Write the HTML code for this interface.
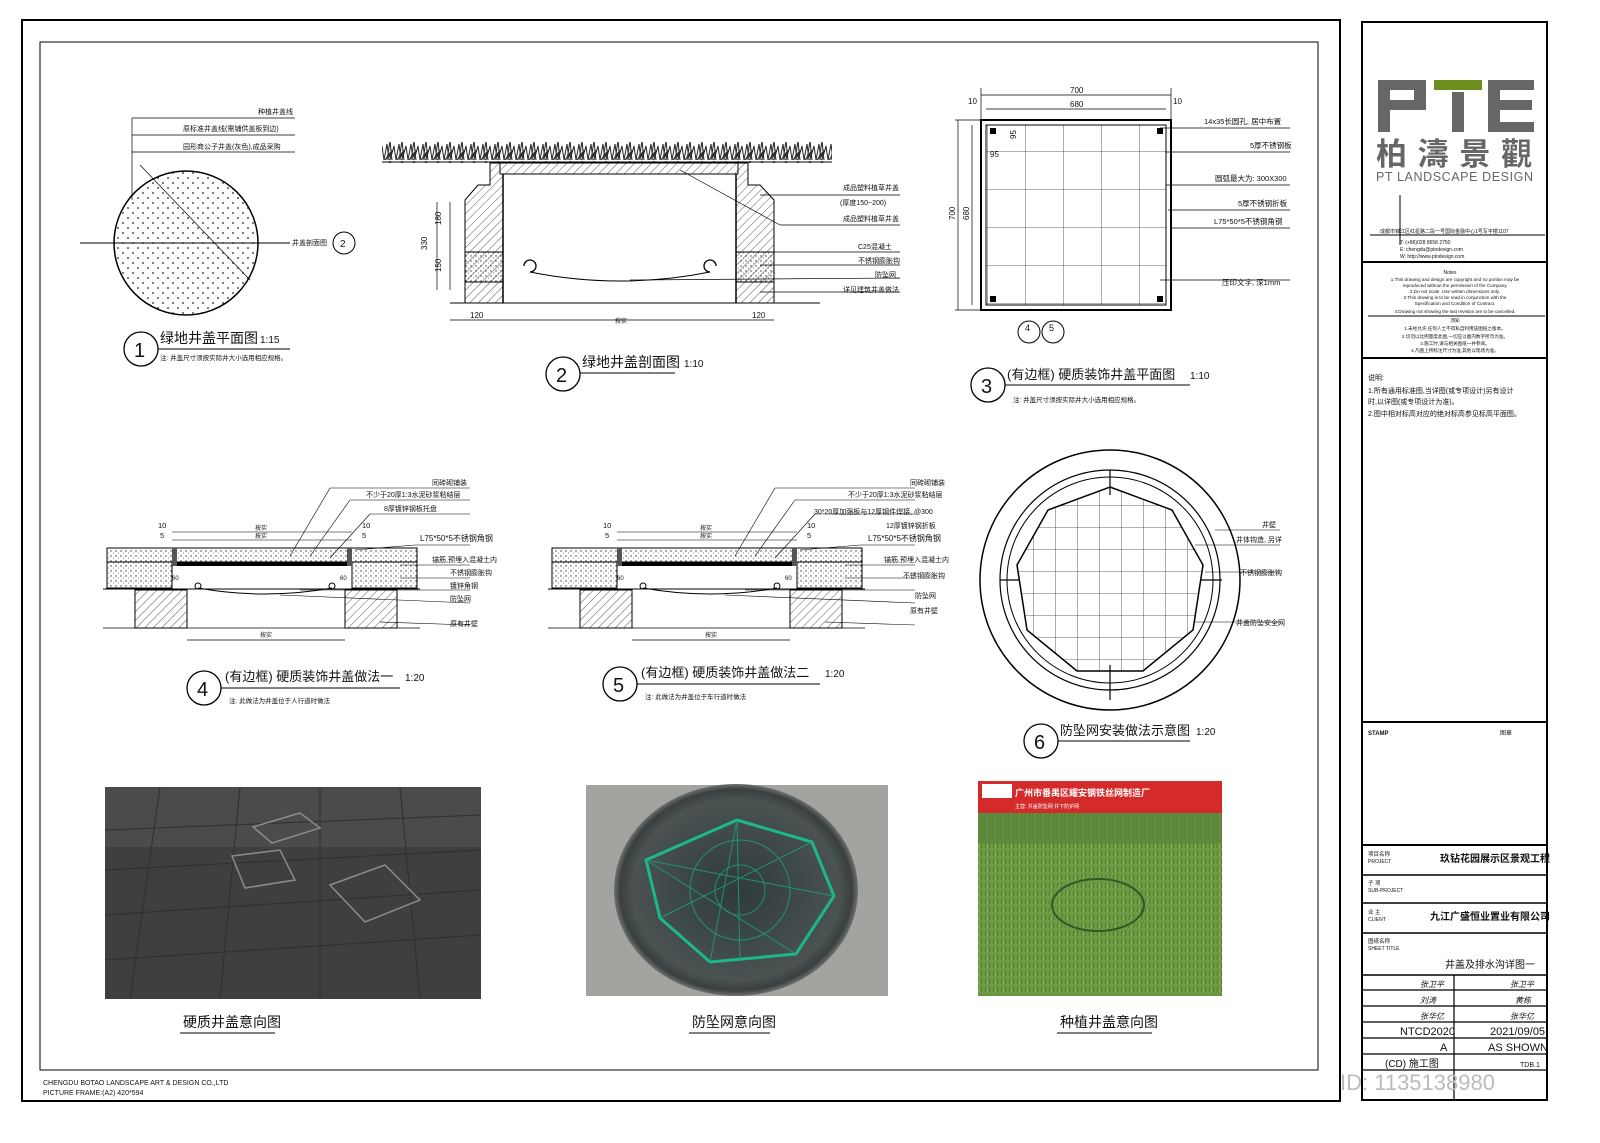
<!DOCTYPE html>
<html><head><meta charset="utf-8"><style>
html,body{margin:0;padding:0;background:#fff}
svg{display:block}
text{font-family:"Liberation Sans","Noto Sans CJK SC",sans-serif;fill:#111}
</style></head><body>
<svg width="1600" height="1143" viewBox="0 0 1600 1143" xmlns="http://www.w3.org/2000/svg">
<defs>
<pattern id="hatch" width="6" height="6" patternUnits="userSpaceOnUse" patternTransform="rotate(45)"><line x1="0" y1="0" x2="0" y2="6" stroke="#333" stroke-width="0.8"/></pattern>
<pattern id="dots" width="5" height="5" patternUnits="userSpaceOnUse"><circle cx="1" cy="1" r="0.7" fill="#333"/><circle cx="3.5" cy="3" r="0.5" fill="#555"/></pattern>
<pattern id="dots2" width="10" height="10" patternUnits="userSpaceOnUse"><circle cx="3" cy="3" r="0.9" fill="#222"/><circle cx="8" cy="8" r="0.9" fill="#222"/></pattern>
<pattern id="grid" width="38" height="38" patternUnits="userSpaceOnUse"><path d="M38 0V38M0 38H38" stroke="#333" stroke-width="0.8" fill="none"/></pattern>
<pattern id="grid2" width="22" height="22" patternUnits="userSpaceOnUse"><path d="M22 0V22M0 22H22" stroke="#333" stroke-width="0.8" fill="none"/></pattern>
<pattern id="grass" width="12" height="20" patternUnits="userSpaceOnUse"><path d="M0 20L3 4L5 20M3 20L6 1L8 20M6 20L10 6L12 20M1 20L8 10" stroke="#222" fill="none" stroke-width="1"/><circle cx="6" cy="15" r="2" fill="#333"/></pattern>
<pattern id="turf" width="8" height="8" patternUnits="userSpaceOnUse"><rect width="8" height="8" fill="#6e9a44"/><path d="M1 8L2 3M5 8L6 2" stroke="#4f7a30" stroke-width="1"/><path d="M3 8L4 4" stroke="#8ab35a" stroke-width="1"/></pattern>
<radialGradient id="hole" cx="50%" cy="50%" r="50%"><stop offset="0" stop-color="#2f3a3a"/><stop offset="0.85" stop-color="#4a5252"/><stop offset="0.95" stop-color="#3a3f3f"/><stop offset="1" stop-color="#6d706f"/></radialGradient>
</defs>

<rect x="22" y="20" width="1318" height="1081" fill="none" stroke="#000" stroke-width="2"/>
<rect x="40" y="42" width="1278" height="1028" fill="none" stroke="#000" stroke-width="1"/>
<rect x="1362" y="22" width="185" height="1078" fill="none" stroke="#000" stroke-width="2"/>
<line x1="1362" y1="262" x2="1547" y2="262" stroke="#000" stroke-width="2"/>
<line x1="1362" y1="358" x2="1547" y2="358" stroke="#000" stroke-width="2"/>
<line x1="1362" y1="722" x2="1547" y2="722" stroke="#000" stroke-width="2"/>
<line x1="1362" y1="845" x2="1547" y2="845" stroke="#000" stroke-width="2"/>
<line x1="1362" y1="875" x2="1547" y2="875" stroke="#000" stroke-width="1.5"/>
<line x1="1362" y1="903" x2="1547" y2="903" stroke="#000" stroke-width="1.5"/>
<line x1="1362" y1="933" x2="1547" y2="933" stroke="#000" stroke-width="1.5"/>
<line x1="1362" y1="975" x2="1547" y2="975" stroke="#000" stroke-width="1.5"/>
<g stroke="#000" stroke-width="1.2"><line x1="1362" y1="990" x2="1547" y2="990"/><line x1="1362" y1="1006" x2="1547" y2="1006"/><line x1="1362" y1="1022" x2="1547" y2="1022"/><line x1="1362" y1="1038" x2="1547" y2="1038"/><line x1="1362" y1="1054" x2="1547" y2="1054"/><line x1="1362" y1="1070" x2="1547" y2="1070"/><line x1="1454" y1="975" x2="1454" y2="1100"/></g>

<g fill="#666">
<path d="M1378 80h48v30h-36v22h-12zM1390 90v10h24v-10z" fill-rule="evenodd"/>
<rect x="1434" y="80" width="48" height="10" fill="#6b8e1e"/>
<rect x="1452" y="92" width="12" height="40"/>
<path d="M1488 80h46v10h-34v10h32v10h-32v12h34v10h-46z"/>
</g>
<text x="1376" y="165" font-size="31" font-weight="bold" style="fill:#666" textLength="156">柏濤景觀</text>
<text x="1376" y="181" font-size="12.5" style="fill:#666" textLength="157">PT LANDSCAPE DESIGN</text>
<line x1="1400" y1="195" x2="1400" y2="245" stroke="#000"/>
<line x1="1370" y1="235" x2="1545" y2="235" stroke="#000"/>
<text x="1380" y="233" font-size="5">成都市锦江区红星路二段一号国际金融中心1号写字楼1107</text>
<text x="1400" y="244" font-size="5">T: (+86)028 8658 2750</text>
<text x="1400" y="251" font-size="5">E: chengdu@ptodesign.com</text>
<text x="1400" y="258" font-size="5">W: http://www.ptodesign.com</text>
<text x="1450" y="274" font-size="5" text-anchor="middle">Notes</text>
<g font-size="4.6" text-anchor="middle"><text x="1455" y="281">1.This drawing and design are copyright and no portion may be</text><text x="1455" y="287">reproduced without the permission of the Company.</text><text x="1455" y="293">2.Do not scale. Use written dimensions only.</text><text x="1455" y="299">3.This drawing is to be read in conjunction with the</text><text x="1455" y="305">Specification and Condition of Contract.</text><text x="1455" y="313">4.Drawing not showing the last revision are to be cancelled.</text><text x="1455" y="322">须知</text><text x="1455" y="330">1.未经允许,任何人士不得私自利用该图纸之版本。</text><text x="1455" y="338">2.切勿以比例量度此图,一切应以图内数字所示为准。</text><text x="1455" y="345">3.施工时,请与相关图纸一并参阅。</text><text x="1455" y="352">4.凡图上所标注尺寸为准,其他以现场为准。</text></g>
<line x1="1368" y1="316" x2="1545" y2="316" stroke="#000"/>
<g font-size="7"><text x="1368" y="380">说明:</text><text x="1368" y="393">1.所有通用标准图,当详图(或专项设计)另有设计</text><text x="1368" y="404">时,以详图(或专项设计为准)。</text><text x="1368" y="416">2.图中相对标高对应的绝对标高参见标高平面图。</text></g>
<text x="1368" y="735" font-size="6" font-weight="bold">STAMP</text><text x="1500" y="735" font-size="6">图章</text>
<text x="1368" y="856" font-size="5.5">项目名称</text><text x="1368" y="863" font-size="5">PROJECT</text>
<text x="1440" y="862" font-size="10" font-weight="bold">玖钻花园展示区景观工程</text>
<text x="1368" y="885" font-size="5.5">子 项</text><text x="1368" y="892" font-size="5">SUB-PROJECT</text>
<text x="1368" y="914" font-size="5.5">业 主</text><text x="1368" y="921" font-size="5">CLIENT</text>
<text x="1430" y="920" font-size="10" font-weight="bold">九江广盛恒业置业有限公司</text>
<text x="1368" y="943" font-size="5.5">图纸名称</text><text x="1368" y="950" font-size="5">SHEET TITLE</text>
<text x="1445" y="968" font-size="10">井盖及排水沟详图一</text>
<g font-size="11"><text x="1400" y="1035">NTCD2020</text><text x="1440" y="1051">A</text><text x="1490" y="1035">2021/09/05</text><text x="1488" y="1051">AS SHOWN</text><text x="1385" y="1067" font-size="10">(CD) 施工图</text><text x="1520" y="1067" font-size="7">TDB.1</text></g>
<g font-size="8" font-style="italic"><text x="1420" y="987">张卫平</text><text x="1510" y="987">张卫平</text><text x="1420" y="1003">刘涛</text><text x="1515" y="1003">黄栋</text><text x="1420" y="1019">张华亿</text><text x="1510" y="1019">张华亿</text></g>
<text x="1340" y="1090" font-size="22" style="fill:#bbb">ID: 1135138980</text>

<circle cx="186" cy="243" r="72" fill="url(#dots2)" stroke="#000" stroke-width="1.5"/>
<line x1="80" y1="243" x2="290" y2="243" stroke="#000"/>
<line x1="132" y1="118" x2="132" y2="200" stroke="#000" stroke-width="0.7"/>
<line x1="132" y1="118" x2="295" y2="118" stroke="#000" stroke-width="0.7"/>
<line x1="132" y1="135" x2="295" y2="135" stroke="#000" stroke-width="0.7"/>
<line x1="132" y1="152" x2="295" y2="152" stroke="#000" stroke-width="0.7"/>
<line x1="140" y1="165" x2="250" y2="280" stroke="#000" stroke-width="0.7"/>
<g font-size="7"><text x="258" y="114">种植井盖线</text><text x="183" y="131">原标准井盖线(需铺供盖板到边)</text><text x="183" y="149">园形商公子井盖(灰色),成品采购</text><text x="292" y="245">井盖剖面图</text></g>
<circle cx="344" cy="243" r="11" fill="none" stroke="#000"/><text x="340" y="247" font-size="10">2</text>
<circle cx="141" cy="349" r="17" fill="none" stroke="#000" stroke-width="1.3"/><text x="134" y="357" font-size="20">1</text>
<text x="160" y="343" font-size="14">绿地井盖平面图</text><text x="260" y="343" font-size="10">1:15</text>
<line x1="158" y1="349" x2="290" y2="349" stroke="#000"/>
<text x="160" y="360" font-size="6.5">注: 井盖尺寸须按实际井大小选用相应规格。</text>

<rect x="382" y="142" width="450" height="21" fill="url(#grass)"/>
<line x1="382" y1="162" x2="832" y2="162" stroke="#000"/>
<rect x="500" y="163" width="238" height="11" fill="url(#hatch)" stroke="#000"/>
<path d="M490 163V185H478L465 200V303H503V174H500V163z" fill="url(#hatch)" stroke="#000"/>
<path d="M748 163V185H760L774 200V303H736V174H738V163z" fill="url(#hatch)" stroke="#000"/>
<rect x="465" y="252" width="38" height="30" fill="url(#dots)" stroke="#000"/>
<rect x="736" y="252" width="38" height="30" fill="url(#dots)" stroke="#000"/>
<line x1="503" y1="174" x2="503" y2="303" stroke="#000" stroke-width="1.5"/>
<line x1="736" y1="174" x2="736" y2="303" stroke="#000" stroke-width="1.5"/>
<path d="M530 272Q620 290 710 272" fill="none" stroke="#000"/>
<path d="M530 272a6 6 0 1 0 -6 -6" fill="none" stroke="#000" stroke-width="1.3"/>
<path d="M710 272a6 6 0 1 1 6 -6" fill="none" stroke="#000" stroke-width="1.3"/>
<line x1="450" y1="303" x2="820" y2="303" stroke="#000"/>
<line x1="450" y1="320" x2="774" y2="320" stroke="#000" stroke-width="0.7"/>
<g font-size="8"><text x="470" y="318">120</text><text x="752" y="318">120</text><text x="615" y="323" font-size="6">按实</text></g>
<line x1="437" y1="202" x2="437" y2="290" stroke="#000" stroke-width="0.7"/><line x1="450" y1="202" x2="450" y2="290" stroke="#000" stroke-width="0.7"/>
<g font-size="8"><text x="427" y="250" transform="rotate(-90 427 250)">330</text><text x="441" y="225" transform="rotate(-90 441 225)">180</text><text x="441" y="272" transform="rotate(-90 441 272)">150</text></g>
<g stroke="#000" stroke-width="0.7"><line x1="760" y1="195" x2="900" y2="195"/><line x1="680" y1="170" x2="780" y2="225"/><line x1="780" y1="225" x2="900" y2="225"/><line x1="760" y1="252" x2="900" y2="252"/><line x1="760" y1="265" x2="900" y2="265"/><line x1="630" y1="280" x2="900" y2="278"/><line x1="760" y1="292" x2="900" y2="292"/></g>
<g font-size="7"><text x="843" y="190">成品塑料植草井盖</text><text x="840" y="205">(厚度150~200)</text><text x="843" y="221">成品塑料植草井盖</text><text x="858" y="249">C25混凝土</text><text x="858" y="263">不锈钢膨胀钩</text><text x="875" y="277">防坠网</text><text x="843" y="292">详见建筑井盖做法</text></g>
<circle cx="563" cy="374" r="17" fill="none" stroke="#000" stroke-width="1.3"/><text x="556" y="382" font-size="20">2</text>
<text x="582" y="367" font-size="14">绿地井盖剖面图</text><text x="684" y="367" font-size="10">1:10</text>
<line x1="580" y1="373" x2="675" y2="373" stroke="#000"/>

<rect x="981" y="120" width="190" height="190" fill="#fff" stroke="#000" stroke-width="2"/>
<rect x="986" y="125" width="180" height="180" fill="url(#grid)" stroke="#000"/>
<g stroke="#000" stroke-width="0.7"><line x1="981" y1="95" x2="1171" y2="95"/><line x1="986" y1="109" x2="1166" y2="109"/><line x1="981" y1="88" x2="981" y2="120"/><line x1="1171" y1="88" x2="1171" y2="120"/><line x1="958" y1="120" x2="958" y2="310"/><line x1="972" y1="125" x2="972" y2="305"/><line x1="955" y1="120" x2="981" y2="120"/><line x1="955" y1="310" x2="981" y2="310"/></g>
<g font-size="8"><text x="1070" y="93">700</text><text x="1070" y="107">680</text><text x="968" y="104">10</text><text x="1173" y="104">10</text><text x="955" y="220" transform="rotate(-90 955 220)">700</text><text x="969" y="220" transform="rotate(-90 969 220)">680</text><text x="990" y="157">95</text><text x="1016" y="139" transform="rotate(-90 1016 139)">95</text></g>
<rect x="1157" y="128" width="6" height="6" fill="#000"/><rect x="990" y="296" width="6" height="6" fill="#000"/><rect x="1157" y="296" width="6" height="6" fill="#000"/><rect x="990" y="128" width="6" height="6" fill="#000"/>
<g stroke="#000" stroke-width="0.7"><line x1="1160" y1="128" x2="1290" y2="128"/><line x1="1166" y1="152" x2="1290" y2="152"/><line x1="1166" y1="185" x2="1290" y2="185"/><line x1="1168" y1="210" x2="1290" y2="210"/><line x1="1170" y1="228" x2="1290" y2="228"/><line x1="1160" y1="280" x2="1290" y2="280"/></g>
<g font-size="7.5"><text x="1204" y="124">14x35长圆孔, 居中布置</text><text x="1250" y="148">5厚不锈钢板</text><text x="1215" y="181">圆弧最大为: 300X300</text><text x="1238" y="206">5厚不锈钢折板</text><text x="1214" y="224">L75*50*5不锈钢角钢</text><text x="1222" y="285">压印文字, 深1mm</text></g>
<circle cx="1029" cy="332" r="11" fill="none" stroke="#000"/><circle cx="1053" cy="332" r="11" fill="none" stroke="#000"/>
<text x="1025" y="331" font-size="9">4</text><text x="1049" y="331" font-size="9">5</text>
<circle cx="988" cy="385" r="17" fill="none" stroke="#000" stroke-width="1.3"/><text x="981" y="393" font-size="20">3</text>
<text x="1007" y="379" font-size="13">(有边框) 硬质装饰井盖平面图</text><text x="1190" y="379" font-size="10">1:10</text>
<line x1="1005" y1="385" x2="1190" y2="385" stroke="#000"/>
<text x="1013" y="402" font-size="6.5">注: 井盖尺寸须按实际井大小选用相应规格。</text>

<g id="sec">
<rect x="107" y="548" width="310" height="14" fill="url(#dots)" stroke="#000"/>
<rect x="107" y="562" width="65" height="26" fill="url(#dots)" stroke="#000"/>
<rect x="352" y="562" width="65" height="26" fill="url(#dots)" stroke="#000"/>
<rect x="172" y="562" width="180" height="4" fill="#000"/>
<rect x="172" y="548" width="5" height="18" fill="#555"/><rect x="347" y="548" width="5" height="18" fill="#555"/>
<rect x="135" y="590" width="52" height="38" fill="url(#hatch)" stroke="#000"/>
<rect x="345" y="590" width="52" height="38" fill="url(#hatch)" stroke="#000"/>
<line x1="103" y1="589" x2="420" y2="589" stroke="#000"/>
<line x1="103" y1="628" x2="420" y2="628" stroke="#000" stroke-width="0.7"/>
<path d="M198 588Q265 600 332 588" fill="none" stroke="#000"/>
<circle cx="198" cy="586" r="3" fill="none" stroke="#000"/><circle cx="332" cy="586" r="3" fill="none" stroke="#000"/>
<line x1="187" y1="640" x2="345" y2="640" stroke="#000" stroke-width="0.7"/>
<line x1="172" y1="532" x2="352" y2="532" stroke="#000" stroke-width="0.6"/><line x1="172" y1="540" x2="352" y2="540" stroke="#000" stroke-width="0.6"/>
<g font-size="6"><text x="255" y="530">按实</text><text x="255" y="538">按实</text><text x="260" y="637">按实</text><text x="172" y="580">60</text><text x="340" y="580">60</text></g>
<g font-size="7.5"><text x="158" y="528">10</text><text x="160" y="538">5</text><text x="362" y="528">10</text><text x="362" y="538">5</text></g>
<g stroke="#000" stroke-width="0.6"><line x1="290" y1="556" x2="330" y2="488"/><line x1="330" y1="488" x2="470" y2="488"/><line x1="310" y1="556" x2="350" y2="500"/><line x1="350" y1="500" x2="470" y2="500"/><line x1="330" y1="558" x2="370" y2="514"/><line x1="370" y1="514" x2="470" y2="514"/><line x1="355" y1="550" x2="415" y2="545"/><line x1="415" y1="545" x2="470" y2="545"/><line x1="400" y1="565" x2="470" y2="565"/><line x1="400" y1="578" x2="470" y2="578"/><line x1="300" y1="590" x2="470" y2="590"/><line x1="280" y1="595" x2="470" y2="603"/><line x1="380" y1="622" x2="470" y2="625"/></g>
</g>
<g font-size="7"><text x="432" y="485">同砖砌铺装</text><text x="366" y="497">不少于20厚1:3水泥砂浆粘结层</text><text x="384" y="511">8厚镀锌钢板托盘</text><text x="420" y="541" font-size="8">L75*50*5不锈钢角钢</text><text x="432" y="562">锚筋,预埋入混凝土内</text><text x="450" y="575">不锈钢膨胀钩</text><text x="450" y="588">镀锌角钢</text><text x="450" y="601">防坠网</text><text x="450" y="626">原有井壁</text></g>
<use href="#sec" transform="translate(445,0)"/>
<g font-size="7"><text x="910" y="485">同砖砌铺装</text><text x="848" y="497">不少于20厚1:3水泥砂浆粘结层</text><text x="814" y="514">30*20厚加强板与12厚钢件焊接, @300</text><text x="886" y="528">12厚镀锌钢折板</text><text x="868" y="541" font-size="8">L75*50*5不锈钢角钢</text><text x="884" y="562">锚筋,预埋入混凝土内</text><text x="903" y="578">不锈钢膨胀钩</text><text x="915" y="598">防坠网</text><text x="910" y="613">原有井壁</text></g>
<circle cx="204" cy="688" r="17" fill="none" stroke="#000" stroke-width="1.3"/><text x="197" y="696" font-size="20">4</text>
<text x="225" y="681" font-size="13">(有边框) 硬质装饰井盖做法一</text><text x="405" y="681" font-size="10">1:20</text>
<line x1="221" y1="688" x2="400" y2="688" stroke="#000"/>
<text x="229" y="703" font-size="6.5">注: 此做法为井盖位于人行道时做法</text>
<circle cx="620" cy="684" r="17" fill="none" stroke="#000" stroke-width="1.3"/><text x="613" y="692" font-size="20">5</text>
<text x="641" y="677" font-size="13">(有边框) 硬质装饰井盖做法二</text><text x="825" y="677" font-size="10">1:20</text>
<line x1="637" y1="684" x2="820" y2="684" stroke="#000"/>
<text x="645" y="699" font-size="6.5">注: 此做法为井盖位于车行道时做法</text>

<circle cx="1110" cy="580" r="130" fill="none" stroke="#000" stroke-width="1.5"/>
<circle cx="1110" cy="580" r="110" fill="none" stroke="#000" stroke-width="1.2"/>
<circle cx="1110" cy="580" r="103" fill="none" stroke="#000" stroke-width="1"/>
<clipPath id="oc"><polygon points="1110,487 1172,510 1203,565 1193,630 1143,671 1077,671 1027,630 1017,565 1048,510"/></clipPath>
<rect x="1000" y="470" width="220" height="220" fill="url(#grid2)" clip-path="url(#oc)"/>
<polygon points="1110,487 1172,510 1203,565 1193,630 1143,671 1077,671 1027,630 1017,565 1048,510" fill="none" stroke="#000" stroke-width="1.5"/>
<g stroke="#000" stroke-width="1.2"><line x1="1110" y1="470" x2="1110" y2="495"/><line x1="1110" y1="665" x2="1110" y2="700"/><line x1="1000" y1="580" x2="1020" y2="580"/><line x1="1200" y1="580" x2="1222" y2="580"/></g>
<g stroke="#000" stroke-width="0.6"><line x1="1215" y1="530" x2="1280" y2="530"/><line x1="1195" y1="545" x2="1280" y2="545"/><line x1="1205" y1="572" x2="1280" y2="572"/><line x1="1195" y1="622" x2="1280" y2="622"/></g>
<g font-size="7"><text x="1262" y="527">井壁</text><text x="1236" y="527" dy="15">井体钩造, 另详</text><text x="1240" y="575">不锈钢膨胀钩</text><text x="1236" y="625">井盖防坠安全网</text></g>
<circle cx="1041" cy="741" r="17" fill="none" stroke="#000" stroke-width="1.3"/><text x="1034" y="749" font-size="20">6</text>
<text x="1060" y="735" font-size="13">防坠网安装做法示意图</text><text x="1196" y="735" font-size="10">1:20</text>
<line x1="1058" y1="741" x2="1190" y2="741" stroke="#000"/>

<rect x="105" y="787" width="376" height="212" fill="#3e3f41"/>
<rect x="105" y="787" width="376" height="60" fill="#505153" opacity="0.7"/>
<g stroke="#2e2f30" stroke-width="1"><line x1="105" y1="830" x2="481" y2="815"/><line x1="105" y1="870" x2="481" y2="850"/><line x1="105" y1="915" x2="481" y2="890"/><line x1="105" y1="960" x2="481" y2="935"/><line x1="160" y1="787" x2="130" y2="999"/><line x1="240" y1="787" x2="220" y2="999"/><line x1="320" y1="787" x2="320" y2="999"/><line x1="400" y1="787" x2="420" y2="999"/></g>
<g fill="none" stroke="#8a8b8d" stroke-width="1.5"><polygon points="253,827 300,813 320,828 272,843"/><polygon points="232,856 280,850 295,880 245,888"/><polygon points="330,885 385,865 420,900 365,922"/></g>
<rect x="586" y="785" width="302" height="211" fill="#a3a3a0"/>
<ellipse cx="736" cy="890" rx="122" ry="106" fill="url(#hole)"/>
<polygon points="737,820 812,842 834,896 796,954 710,962 660,918 646,860" fill="none" stroke="#1bb88a" stroke-width="3"/>
<g stroke="#1aa57c" stroke-width="1" opacity="0.8"><line x1="737" y1="820" x2="740" y2="962"/><line x1="646" y1="860" x2="834" y2="896"/><line x1="660" y1="918" x2="812" y2="842"/><line x1="710" y1="962" x2="737" y2="820"/><line x1="796" y1="954" x2="646" y2="860"/><circle cx="740" cy="890" r="25" fill="none"/><circle cx="740" cy="890" r="50" fill="none"/></g>
<rect x="978" y="781" width="244" height="215" fill="url(#turf)"/>
<rect x="978" y="813" width="244" height="30" fill="#55803a" opacity="0.6"/>
<rect x="978" y="781" width="244" height="32" fill="#d42a2a"/>
<rect x="982" y="784" width="30" height="14" fill="#fff"/>
<text x="1015" y="796" font-size="9" font-weight="bold" style="fill:#fff">广州市番禺区耀安钢铁丝网制造厂</text>
<text x="1015" y="808" font-size="5" style="fill:#fff">主营: 井盖防坠网 井下防护网</text>
<ellipse cx="1098" cy="905" rx="46" ry="26" fill="none" stroke="#2f5a28" stroke-width="2"/>
<text x="183" y="1027" font-size="14">硬质井盖意向图</text><line x1="180" y1="1033" x2="275" y2="1033" stroke="#000"/>
<text x="692" y="1027" font-size="14">防坠网意向图</text><line x1="689" y1="1033" x2="770" y2="1033" stroke="#000"/>
<text x="1060" y="1027" font-size="14">种植井盖意向图</text><line x1="1057" y1="1033" x2="1152" y2="1033" stroke="#000"/>

<text x="43" y="1085" font-size="7">CHENGDU BOTAO LANDSCAPE  ART &amp; DESIGN CO.,LTD</text>
<text x="43" y="1095" font-size="7">PICTURE FRAME:(A2) 420*594</text>
</svg>
</body></html>
